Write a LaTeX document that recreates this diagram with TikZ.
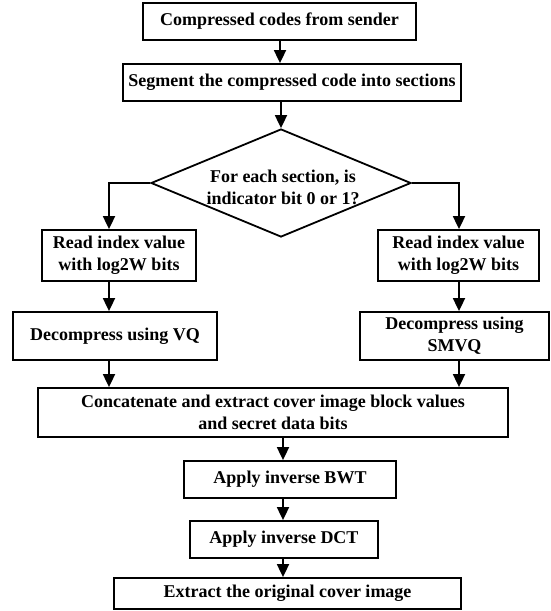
\documentclass[tikz,border=0pt]{standalone}
\usepackage{fontspec}
\setmainfont{Liberation Serif}
\usetikzlibrary{shapes.geometric,arrows.meta}
\begin{document}
\begin{tikzpicture}[x=1pt,y=-1pt,
  every node/.style={font=\fontsize{18}{22}\selectfont\bfseries},
  pbox/.style 2 args={draw, line width=1.8pt, minimum width=#1, minimum height=#2,
    inner sep=0pt, align=center},
  decision/.style={draw, diamond, line width=1.8pt, shape aspect=2.4, inner sep=0pt,
    minimum width=260pt, minimum height=108pt},
  caption/.style={inner sep=0pt, align=center},
  arr/.style={line width=1.8pt, -{Triangle[width=12pt,length=13pt]}}]
\useasboundingbox (0,0) rectangle (550,611);
\fill[white] (0,0) rectangle (550,611);

% columns used by the connectors
\coordinate (colT) at (280,0);
\coordinate (colL) at (109,0);
\coordinate (colR) at (459,0);
\coordinate (colM) at (283,0);

% process steps
\node[pbox={273pt}{37pt}] (b1) at (279.5,21.5) {Compressed codes from sender};
\node[pbox={338pt}{37pt}] (b2) at (292,82.5) {Segment the compressed code into sections};
\node[decision] (dec) at (281,183) {};
\node[caption] (dectext) at (283,187) {For each section, is\\indicator bit 0 or 1?};
\node[pbox={154pt}{51pt}] (rl) at (119,255.5) {Read index value\\with log2W bits};
\node[pbox={161pt}{51pt}] (rr) at (458.5,255.5) {Read index value\\with log2W bits};
\node[pbox={204pt}{48pt}] (vq) at (115,336) {Decompress using VQ};
\node[pbox={189pt}{48pt}] (smvq) at (454.5,336) {Decompress using\\SMVQ};
\node[pbox={470pt}{49pt}] (cat) at (273,412.5) {Concatenate and extract cover image block values\\and secret data bits};
\node[pbox={212pt}{37pt}] (bwt) at (290,479.5) {Apply inverse BWT};
\node[pbox={188pt}{37pt}] (dct) at (284,539.5) {Apply inverse DCT};
\node[pbox={347pt}{31pt}] (ext) at (287.5,593.5) {Extract the original cover image};

% connectors
\draw[arr] (b1.south -| colT) -- (b2.north -| colT);
\draw[arr] (b2.south -| dec.north) -- (dec.north);
\draw[arr] (dec.west) -| (rl.north -| colL);
\draw[arr] (dec.east) -| (rr.north -| colR);
\draw[arr] (rl.south -| colL) -- (vq.north -| colL);
\draw[arr] (rr.south -| colR) -- (smvq.north -| colR);
\draw[arr] (vq.south -| colL) -- (cat.north -| colL);
\draw[arr] (smvq.south -| colR) -- (cat.north -| colR);
\draw[arr] (cat.south -| colM) -- (bwt.north -| colM);
\draw[arr] (bwt.south -| colM) -- (dct.north -| colM);
\draw[arr] (dct.south -| colM) -- (ext.north -| colM);
\end{tikzpicture}
\end{document}
